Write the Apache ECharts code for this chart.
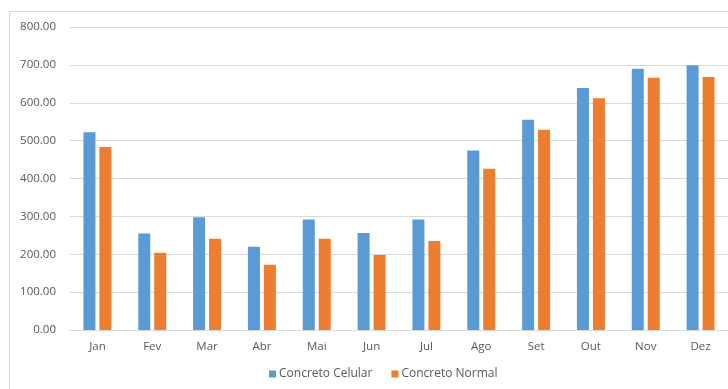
<!DOCTYPE html>
<html>
<head>
<meta charset="utf-8">
<script src="https://cdn.jsdelivr.net/npm/echarts@6/dist/echarts.min.js"></script>
<style>
  html, body { margin: 0; padding: 0; background: #fff; }
  #chart { width: 728px; height: 389px; }
</style>
</head>
<body>
<div id="chart"></div>
<script>
// Monthly values for cellular vs. normal concrete
const months = ['Jan', 'Fev', 'Mar', 'Abr', 'Mai', 'Jun', 'Jul', 'Ago', 'Set', 'Out', 'Nov', 'Dez'];
const concretoCelular = [522, 255, 298, 220, 292, 256, 292, 474, 555, 639, 690, 699];
const concretoNormal = [483, 204, 241, 172, 241, 198, 235, 426, 529, 612, 666, 668];
const seriesNames = ['Concreto Celular', 'Concreto Normal'];

const textColor = '#595959';
const fontFamily = '"Open Sans", "Liberation Sans", sans-serif';

const chart = echarts.init(document.getElementById('chart'), null, { renderer: 'canvas' });

chart.setOption({
  animation: false,
  backgroundColor: '#ffffff',
  graphic: [{
    type: 'rect',
    shape: { x: 9.5, y: 11.5, width: 800, height: 500 },
    style: { fill: 'none', stroke: '#d9d9d9', lineWidth: 1 },
    silent: true
  }],
  grid: { left: 70, top: 27, width: 664, height: 303, containLabel: false },
  legend: {
    data: seriesNames,
    bottom: 4,
    left: 264,
    itemWidth: 7,
    itemHeight: 7,
    itemGap: 19,
    icon: 'rect',
    textStyle: { color: textColor, fontSize: 12, fontFamily: fontFamily, padding: [0, 0, 0, -2] }
  },
  xAxis: {
    type: 'category',
    data: months,
    axisLine: { show: true, lineStyle: { color: '#d9d9d9' } },
    axisTick: { show: false },
    axisLabel: { color: textColor, fontSize: 11.5, fontFamily: fontFamily, margin: 11 }
  },
  yAxis: {
    type: 'value',
    min: 0,
    max: 800,
    interval: 100,
    axisLine: { show: false },
    axisTick: { show: false },
    splitLine: { lineStyle: { color: '#d9d9d9', width: 1 } },
    axisLabel: {
      color: textColor,
      fontSize: 11.5,
      fontFamily: fontFamily,
      margin: 14,
      formatter: v => v.toFixed(2)
    }
  },
  series: [
    {
      name: seriesNames[0],
      type: 'bar',
      data: concretoCelular,
      barWidth: 12,
      barGap: '33%',
      itemStyle: { color: '#5b9bd5' }
    },
    {
      name: seriesNames[1],
      type: 'bar',
      data: concretoNormal,
      barWidth: 12,
      barGap: '33%',
      itemStyle: { color: '#ed7d31' }
    }
  ]
});
</script>
</body>
</html>
